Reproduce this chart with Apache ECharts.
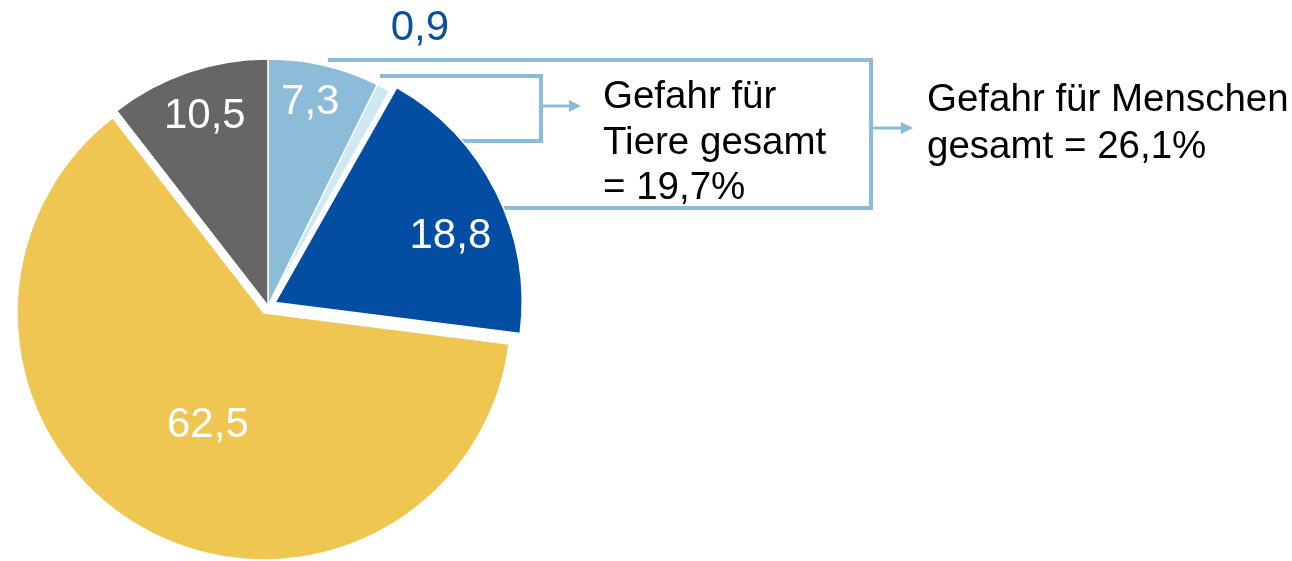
<!DOCTYPE html>
<html>
<head>
<meta charset="utf-8">
<script src="https://cdn.jsdelivr.net/npm/echarts@6/dist/echarts.min.js"></script>
<style>
  html, body { margin: 0; padding: 0; background: #fff; }
  #chart { width: 1292px; height: 561px; }
</style>
</head>
<body>
<div id="chart"></div>
<script>
// Anteile in Prozent, im Uhrzeigersinn ab 12 Uhr
const shares = [7.3, 0.9, 18.8, 62.5, 10.5];
const sliceColors = ["#8dbcd9", "#cdeaf3", "#034ea2", "#f0c653", "#666666"];
const explodedSlices = [2, 3]; // 18,8 und 62,5 leicht herausgezogen
const labelColors = ["#fff", "#0b4fa1", "#fff", "#fff", "#fff"];
const tiereText = ["Gefahr für", "Tiere gesamt", "= 19,7%"];
const menschenText = ["Gefahr für Menschen", "gesamt = 26,1%"];

// Label-Platzierung: Abstand (Anteil am Radius) und Winkelkorrektur (Grad)
const labelRadius = [0.84, 1.28, 0.79, 0.54, 0.81];
const labelAngleShift = [-1.4, 0.8, 5.8, -2.9, 0.5];

const FONT = "'Liberation Sans', Arial, sans-serif";
const CX = 268, CY = 306, R = 247, OFFSET = 8;
const LINE = "#8bbbd9";

const chart = echarts.init(document.getElementById("chart"));

const total = shares.reduce((a, b) => a + b, 0);
const bisector = []; // Grad im Uhrzeigersinn ab oben
let acc = 0;
shares.forEach((v) => {
  bisector.push(((acc + v / 2) / total) * 360);
  acc += v;
});

const fmt = (v) => String(v).replace(".", ",");

const arrow = (x, y) => ({
  type: "polygon",
  z: 1,
  shape: { points: [[x, y], [x - 12, y - 6], [x - 12, y + 6]] },
  style: { fill: LINE },
});

const option = {
  animation: false,
  graphic: [
    // innere Klammer (Tiere)
    {
      type: "polyline", z: 1,
      shape: { points: [[380, 76], [541, 76], [541, 141], [450, 141]] },
      style: { stroke: LINE, lineWidth: 4, fill: null },
    },
    {
      type: "line", z: 1,
      shape: { x1: 541, y1: 106, x2: 570, y2: 106 },
      style: { stroke: LINE, lineWidth: 3 },
    },
    arrow(581, 106),
    // äußere Klammer (Menschen)
    {
      type: "polyline", z: 1,
      shape: { points: [[328, 60], [871, 60], [871, 208], [480, 208]] },
      style: { stroke: LINE, lineWidth: 4, fill: null },
    },
    {
      type: "line", z: 1,
      shape: { x1: 871, y1: 128, x2: 902, y2: 128 },
      style: { stroke: LINE, lineWidth: 3 },
    },
    arrow(913, 128),
    {
      type: "text", z: 1, left: 603, top: 75,
      style: {
        text: tiereText.join("\n"), font: "38.5px " + FONT,
        fill: "#000", lineHeight: 45.5,
      },
    },
    {
      type: "text", z: 1, left: 927, top: 77,
      style: {
        text: menschenText.join("\n"), font: "38.5px " + FONT,
        fill: "#000", lineHeight: 47,
      },
    },
  ],
  series: [
    {
      // Tortenstücke
      type: "pie",
      z: 5,
      center: [CX, CY],
      radius: [0, R],
      startAngle: 90,
      clockwise: true,
      selectedMode: "multiple",
      selectedOffset: OFFSET,
      silent: true,
      itemStyle: { borderColor: "#fff", borderWidth: 1.5 },
      label: { show: false },
      labelLine: { show: false },
      data: shares.map((v, i) => ({
        value: v,
        name: fmt(v),
        selected: explodedSlices.includes(i),
        itemStyle: { color: sliceColors[i] },
      })),
    },
    {
      // Datenbeschriftungen
      type: "pie",
      z: 6,
      center: [CX, CY],
      radius: [0, R],
      startAngle: 90,
      clockwise: true,
      silent: true,
      itemStyle: { color: "rgba(0,0,0,0)", borderWidth: 0 },
      label: {
        show: true,
        position: "inside",
        fontFamily: FONT,
        fontSize: 42,
        formatter: (p) => p.name,
      },
      labelLine: { show: false },
      labelLayout: (p) => {
        const i = p.dataIndex;
        const a = ((bisector[i] + labelAngleShift[i]) * Math.PI) / 180;
        const d = R * labelRadius[i];
        return {
          x: CX + Math.sin(a) * d,
          y: CY - Math.cos(a) * d,
          align: "center",
          verticalAlign: "middle",
        };
      },
      data: shares.map((v, i) => ({
        value: v,
        name: fmt(v),
        label: { color: labelColors[i] },
      })),
    },
  ],
};

chart.setOption(option);
</script>
</body>
</html>
